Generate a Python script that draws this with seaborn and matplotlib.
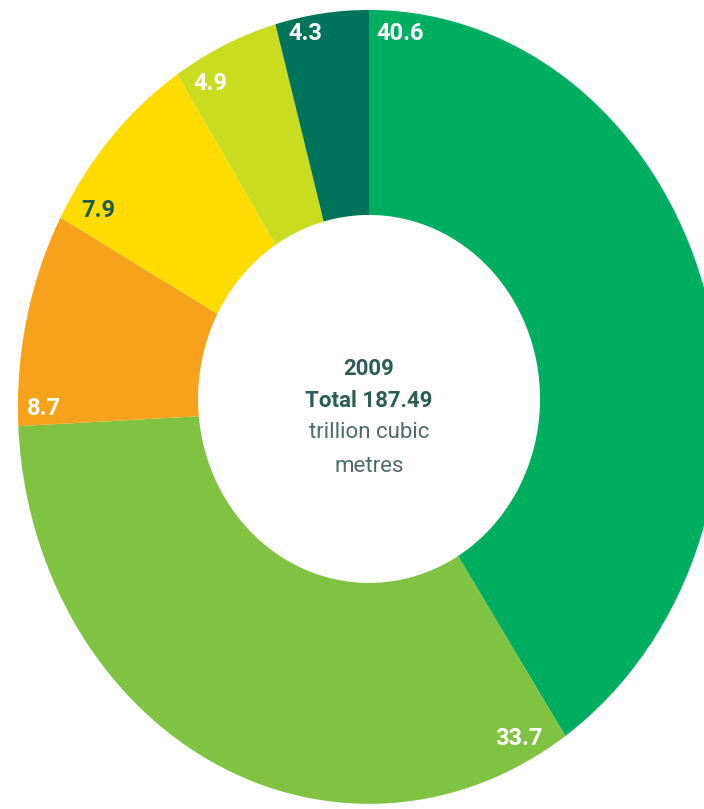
import matplotlib
matplotlib.use("Agg")
import matplotlib.pyplot as plt
from matplotlib.patches import Ellipse
import numpy as np
import seaborn as sns

# ---- data ----
regions = ["Middle East", "Europe & Eurasia", "Asia Pacific", "Africa",
           "North America", "S. & Cent. America"]
shares = [40.6, 33.7, 8.7, 7.9, 4.9, 4.3]
share_labels = ["40.6", "33.7", "8.7", "7.9", "4.9", "4.3"]
center_lines = ["2009", "Total 187.49", "trillion cubic", "metres"]

# ---- style ----
palette = sns.color_palette(["#00ae5f", "#80c241", "#f7a21b", "#ffdc00",
                             "#c9dc1f", "#00745a"])
label_colors = ["white", "white", "white", "#1f5b4d", "white", "white"]
label_shift_deg = [5.4, 6.9, 2.5, 4.1, 4.0, 4.5]
label_radius = [0.944, 0.937, 0.926, 0.917, 0.931, 0.957]

sns.set_theme(style="white")
plt.rcParams["font.family"] = ["Roboto", "DejaVu Sans"]

fig = plt.figure(figsize=(7.04, 8.09), dpi=100)
ax = fig.add_axes([0, 0, 1, 1])
wedges, _ = ax.pie(shares, colors=palette, startangle=90, counterclock=False,
                   radius=1.0, wedgeprops=dict(linewidth=0))
ax.set_aspect("auto")
ax.set_xlim(-1.051, 0.954)
ax.set_ylim(-1.013, 1.025)
ax.axis("off")

# white centre hole
ax.add_patch(Ellipse((0.0, 0.02), width=0.974, height=0.927,
                     facecolor="white", edgecolor="none", zorder=3))

for w, lab, col, sh, r in zip(wedges, share_labels, label_colors,
                              label_shift_deg, label_radius):
    ang = np.deg2rad(w.theta2 - sh)
    ax.text(r * np.cos(ang), r * np.sin(ang), lab, ha="center", va="center",
            color=col, fontsize=17, fontweight="bold", zorder=4)

ys = [0.096, 0.015, -0.065, -0.149]
weights = ["bold", "bold", "normal", "normal"]
cols = ["#2b5d55", "#2b5d55", "#4f6b66", "#4f6b66"]
for y, t, wgt, c in zip(ys, center_lines, weights, cols):
    ax.text(0, y, t, ha="center", va="center", fontsize=16, fontweight=wgt,
            color=c, zorder=5)

fig.savefig("out.png", dpi=100, facecolor="white")
